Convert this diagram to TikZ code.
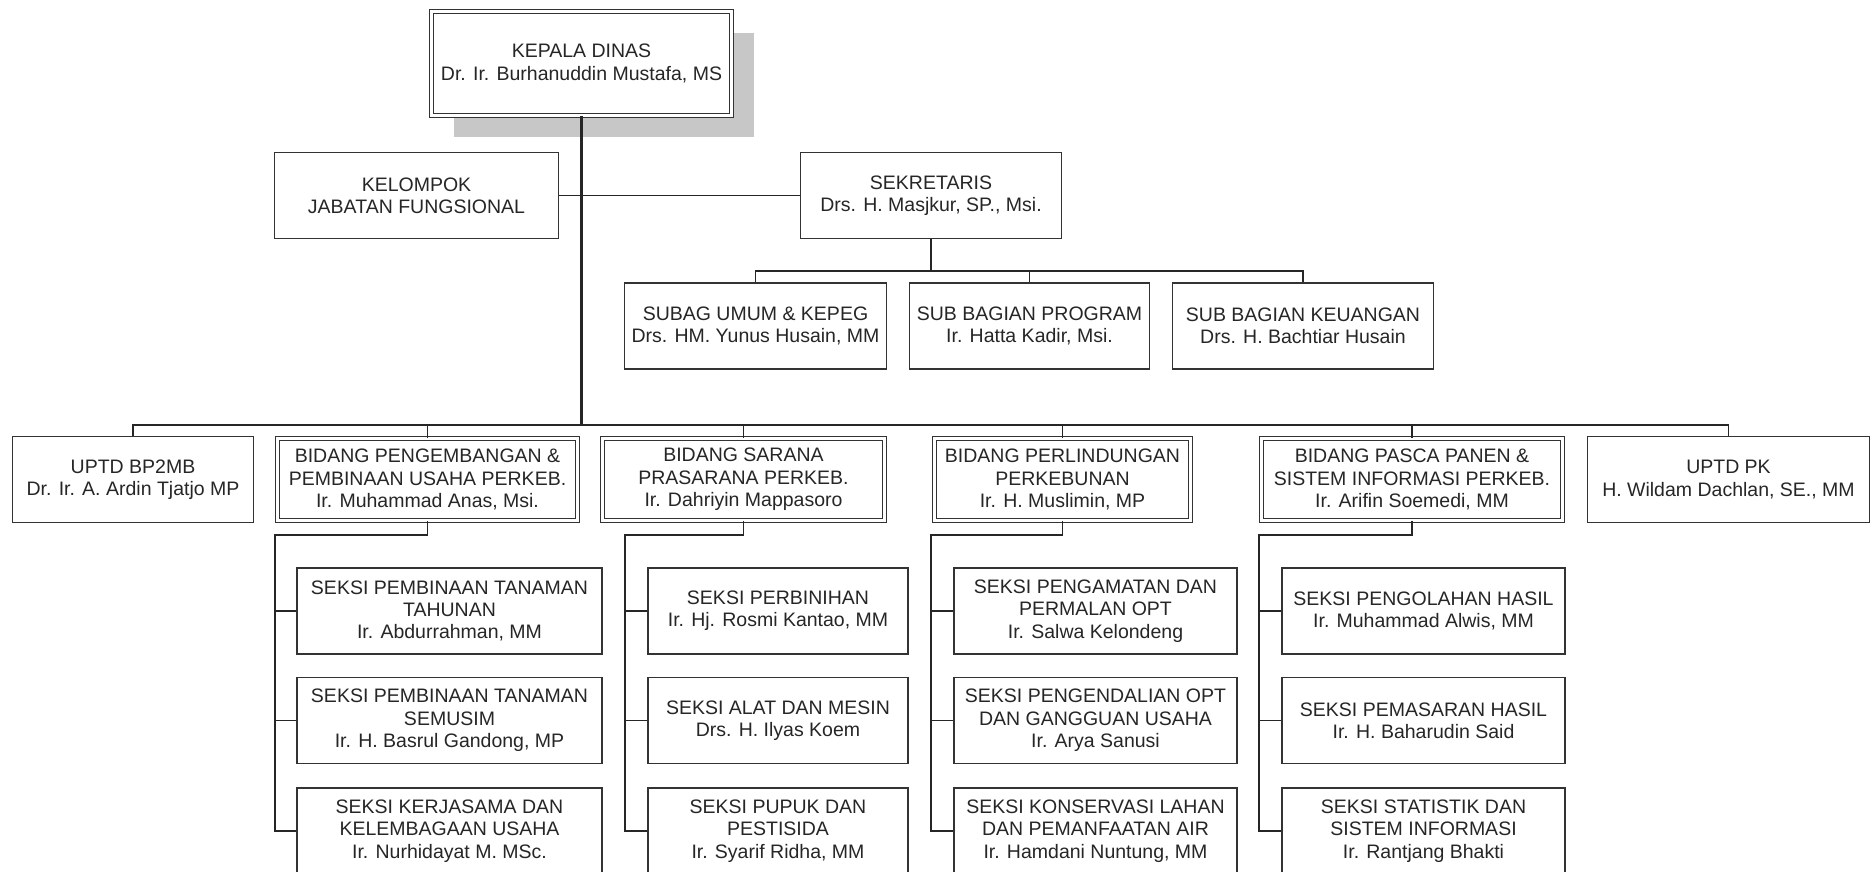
\documentclass[tikz,border=0pt]{standalone}
\usepackage{fontspec}
\setmainfont{Liberation Sans}
\usetikzlibrary{shadows}

\begin{document}
\begin{tikzpicture}[x=1pt,y=-1pt]
\tikzstyle{every node}+=[inner sep=0pt]
\tikzstyle{kotak}=[draw=black!80, line width=1.3pt, fill=white, text=black!85, align=center, font=\fontsize{19.5}{22.4}\selectfont, minimum height=86pt]
\tikzstyle{kotakganda}=[kotak, line width=1.2pt, double=white, double distance=2.4pt, minimum height=82pt]
\tikzstyle{garis}=[black!85, line width=1.3pt]
\useasboundingbox (0,0) rectangle (1872,871);
\node[kotakganda, minimum width=300pt, minimum height=104pt, drop shadow={shadow xshift=22pt, shadow yshift=-21pt, fill=black!22, opacity=1}] (kepala) at (581.5,63.5) {KEPALA DINAS\\Dr. Ir. Burhanuddin Mustafa, MS};
\node[kotak, minimum width=284pt] (kelompok) at (416.5,195.5) {KELOMPOK\\JABATAN FUNGSIONAL};
\node[kotak, minimum width=261pt] (sekretaris) at (931,195.5) {SEKRETARIS\\Drs. H. Masjkur, SP., Msi.};
\node[kotak, minimum width=262pt] (subag) at (755.5,326) {SUBAG UMUM \& KEPEG\\Drs. HM. Yunus Husain, MM};
\node[kotak, minimum width=240pt] (program) at (1029.5,326) {SUB BAGIAN PROGRAM\\Ir. Hatta Kadir, Msi.};
\node[kotak, minimum width=261pt] (keuangan) at (1303,326) {SUB BAGIAN KEUANGAN\\Drs. H. Bachtiar Husain};
\node[kotak, minimum width=241pt] (uptdbp) at (133,479.5) {UPTD BP2MB\\Dr. Ir. A. Ardin Tjatjo MP};
\node[kotakganda, minimum width=300pt] (pengembangan) at (427.5,479.5) {BIDANG PENGEMBANGAN \&\\PEMBINAAN USAHA PERKEB.\\Ir. Muhammad Anas, Msi.};
\node[kotakganda, minimum width=282pt] (sarana) at (743.5,479.5) {BIDANG SARANA\\PRASARANA PERKEB.\\Ir. Dahriyin Mappasoro};
\node[kotakganda, minimum width=256pt] (perlindungan) at (1062.5,479.5) {BIDANG PERLINDUNGAN\\PERKEBUNAN\\Ir. H. Muslimin, MP};
\node[kotakganda, minimum width=301pt] (pasca) at (1412,479.5) {BIDANG PASCA PANEN \&\\SISTEM INFORMASI PERKEB.\\Ir. Arifin Soemedi, MM};
\node[kotak, minimum width=282pt] (uptdpk) at (1728.5,479.5) {UPTD PK\\H. Wildam Dachlan, SE., MM};
\node[kotak, minimum width=305pt] (pengS1) at (449.5,611) {SEKSI PEMBINAAN TANAMAN\\TAHUNAN\\Ir. Abdurrahman, MM};
\node[kotak, minimum width=305pt] (pengS2) at (449.5,720.5) {SEKSI PEMBINAAN TANAMAN\\SEMUSIM\\Ir. H. Basrul Gandong, MP};
\node[kotak, minimum width=305pt] (pengS3) at (449.5,831) {SEKSI KERJASAMA DAN\\KELEMBAGAAN USAHA\\Ir. Nurhidayat M. MSc.};
\node[kotak, minimum width=260pt] (saranaS1) at (778,611) {SEKSI PERBINIHAN\\Ir. Hj. Rosmi Kantao, MM};
\node[kotak, minimum width=260pt] (saranaS2) at (778,720.5) {SEKSI ALAT DAN MESIN\\Drs. H. Ilyas Koem};
\node[kotak, minimum width=260pt] (saranaS3) at (778,831) {SEKSI PUPUK DAN\\PESTISIDA\\Ir. Syarif Ridha, MM};
\node[kotak, minimum width=283pt] (perlS1) at (1095.5,611) {SEKSI PENGAMATAN DAN\\PERMALAN OPT\\Ir. Salwa Kelondeng};
\node[kotak, minimum width=283pt] (perlS2) at (1095.5,720.5) {SEKSI PENGENDALIAN OPT\\DAN GANGGUAN USAHA\\Ir. Arya Sanusi};
\node[kotak, minimum width=283pt] (perlS3) at (1095.5,831) {SEKSI KONSERVASI LAHAN\\DAN PEMANFAATAN AIR\\Ir. Hamdani Nuntung, MM};
\node[kotak, minimum width=283pt] (pascaS1) at (1423.5,611) {SEKSI PENGOLAHAN HASIL\\Ir. Muhammad Alwis, MM};
\node[kotak, minimum width=283pt] (pascaS2) at (1423.5,720.5) {SEKSI PEMASARAN HASIL\\Ir. H. Baharudin Said};
\node[kotak, minimum width=283pt] (pascaS3) at (1423.5,831) {SEKSI STATISTIK DAN\\SISTEM INFORMASI\\Ir. Rantjang Bhakti};
\coordinate (bus) at (583,425);
\coordinate (subbus) at (931,271);
\coordinate (pengbus) at (275,535);
\coordinate (saranabus) at (625,535);
\coordinate (perlbus) at (931,535);
\coordinate (pascabus) at (1259,535);
\draw[garis] (kelompok.east) -- (sekretaris.west);
\draw[garis, line width=2.8pt] (kepala.south) -- (kepala.south |- bus);
\draw[garis] (sekretaris.south) -- (subbus);
\draw[garis] (subag.north) |- (subbus) -| (keuangan.north);
\draw[garis] (program.north) -- (program.north |- subbus);
\draw[garis] (uptdbp.north) |- (bus) -| (uptdpk.north);
\draw[garis] (pengembangan.north) -- (pengembangan.north |- bus);
\draw[garis] (sarana.north) -- (sarana.north |- bus);
\draw[garis] (perlindungan.north) -- (perlindungan.north |- bus);
\draw[garis] (pasca.north) -- (pasca.north |- bus);
\draw[garis] (pengembangan.south) |- (pengbus) |- (pengS3.west);
\draw[garis] (pengbus |- pengS1.west) -- (pengS1.west);
\draw[garis] (pengbus |- pengS2.west) -- (pengS2.west);
\draw[garis] (sarana.south) |- (saranabus) |- (saranaS3.west);
\draw[garis] (saranabus |- saranaS1.west) -- (saranaS1.west);
\draw[garis] (saranabus |- saranaS2.west) -- (saranaS2.west);
\draw[garis] (perlindungan.south) |- (perlbus) |- (perlS3.west);
\draw[garis] (perlbus |- perlS1.west) -- (perlS1.west);
\draw[garis] (perlbus |- perlS2.west) -- (perlS2.west);
\draw[garis] (pasca.south) |- (pascabus) |- (pascaS3.west);
\draw[garis] (pascabus |- pascaS1.west) -- (pascaS1.west);
\draw[garis] (pascabus |- pascaS2.west) -- (pascaS2.west);
\end{tikzpicture}
\end{document}
